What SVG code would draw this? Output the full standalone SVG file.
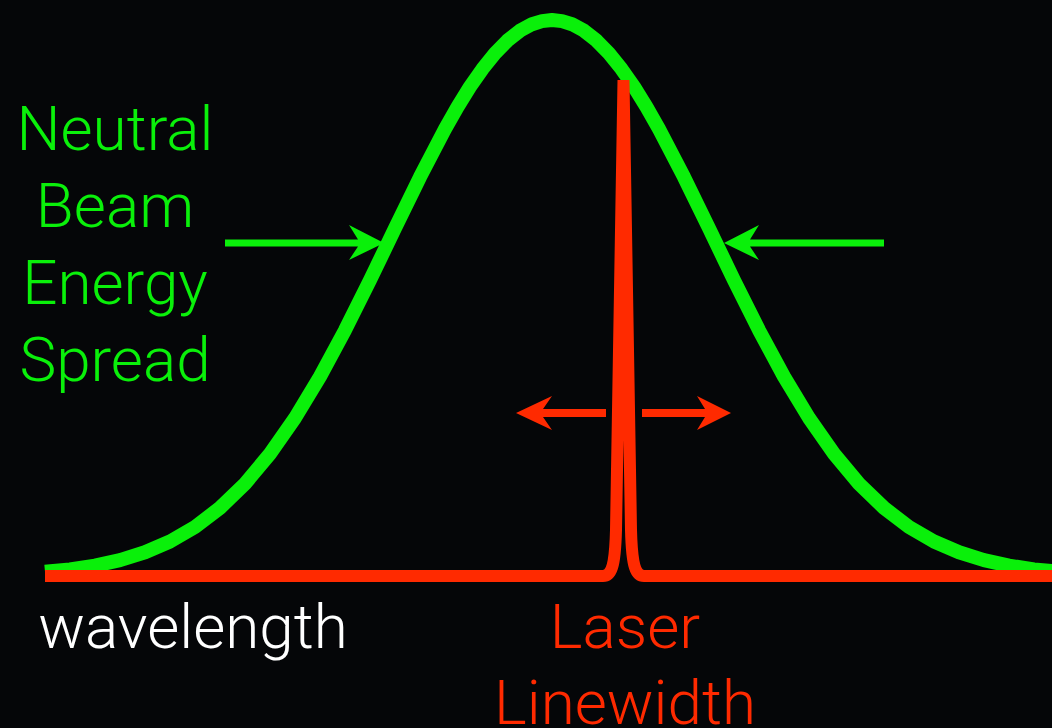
<svg xmlns="http://www.w3.org/2000/svg" width="1052" height="728" viewBox="0 0 1052 728">
<style>
.g{fill:none;stroke:#0af00a;stroke-width:14;stroke-linejoin:round}
.r{fill:none;stroke:#ff2a00;stroke-width:12;stroke-linejoin:bevel}
.ga{fill:#0af00a}
.ra{fill:#ff2a00}
.t{font-family:Roboto,"Liberation Sans",Arial,sans-serif;font-weight:300;font-size:62px;text-anchor:middle}
</style>
<rect width="1052" height="728" fill="#050608"/>
<g id="gaussian">
<polyline class="g" points="45,571.8 70,569.4 95,565.6 120,560.1 145,552.3 170,541.5 195,527 220,507.9 245,483.7 270,453.8 295,418 320,376.6 345,330.2 370,280.2 395,228.3 420,177.1 445,129 457.5,107 470,86.8 482.5,68.9 495,53.4 507.5,40.6 520,30.7 532,24.2 542,21.1 552,20 562,21.1 572,24.2 584,30.7 596.5,40.6 609,53.4 621.5,68.9 634,86.8 646.5,107 659,129 684,177.1 709,228.3 734,280.2 759,330.2 784,376.6 809,418 834,453.8 859,483.7 884,507.9 909,527 934,541.5 959,552.3 984,560.1 1009,565.6 1034,569.4 1059,571.8"/>
</g>
<g id="laser">
<path class="r" d="M45,576 H603 C611,576 615,568 616,530 L623.5,80 L631,530 C632,568 636,576 644,576 H1060"/>
</g>
<g id="connectors">
<path class="ga" d="M225,239.5 H358 L349,225 L384,243 L349,260 L358,246.5 H225 Z"/>
<path class="ga" d="M884,239.5 H750 L759,225 L724,243 L759,260 L750,246.5 H884 Z"/>
<path class="ra" d="M606,409 H543 L552,396 L516,413 L552,430 L543,417 H606 Z"/>
<path class="ra" d="M642,409 H705 L697,396 L731,413 L697,430 L705,417 H642 Z"/>
</g>
<g id="label-neutral" class="t" fill="#0af00a">
<text x="115" y="150">Neutral</text>
<text x="115" y="227">Beam</text>
<text x="115" y="304">Energy</text>
<text x="115" y="381">Spread</text>
</g>
<g id="label-wavelength">
<text class="t" x="193" y="648" fill="#ffffff">wavelength</text>
</g>
<g id="label-laser" class="t" fill="#ff2a00">
<text x="625" y="648">Laser</text>
<text x="625" y="724">Linewidth</text>
</g>
</svg>
